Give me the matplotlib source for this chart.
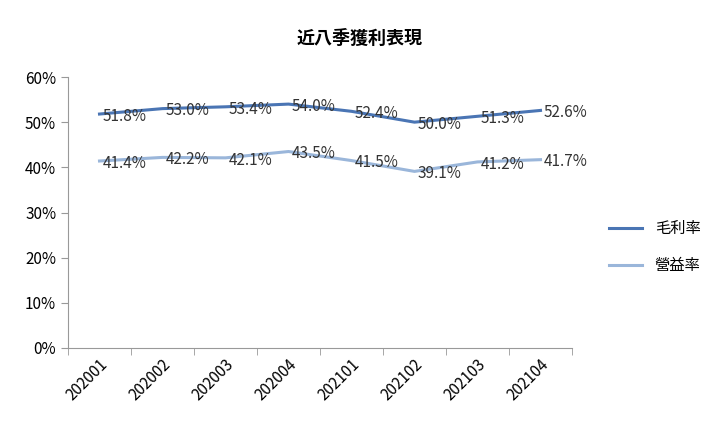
import matplotlib
matplotlib.use("Agg")
import matplotlib.pyplot as plt
from matplotlib import font_manager as fm

cjk = [f.name for f in fm.fontManager.ttflist if "CJK" in f.name]
pref = [n for n in ["Noto Sans CJK TC", "Noto Sans CJK SC", "Noto Sans CJK JP"] if n in cjk]
fams = (pref or cjk[:1]) + ["DejaVu Sans"]
plt.rcParams["font.family"] = fams

quarters = ["202001", "202002", "202003", "202004", "202101", "202102", "202103", "202104"]
gross_margin = [51.8, 53.0, 53.4, 54.0, 52.4, 50.0, 51.3, 52.6]
op_margin = [41.4, 42.2, 42.1, 43.5, 41.5, 39.1, 41.2, 41.7]
series_names = ["毛利率", "營益率"]
title = "近八季獲利表現"

fig = plt.figure(figsize=(7.2, 4.34), dpi=100)
ax = fig.add_axes([68/720, 1-348/434, (572-68)/720, (348-77)/434])
x = list(range(len(quarters)))
c1, c2 = "#4a75b4", "#9ab6da"
ax.plot(x, gross_margin, color=c1, lw=2.2, label=series_names[0])
ax.plot(x, op_margin, color=c2, lw=2.2, label=series_names[1])
for xi, v in zip(x, gross_margin):
    ax.text(xi + 0.05, v - 0.5, f"{v:.1f}%", fontsize=11, va="center", ha="left", color="#333333")
for xi, v in zip(x, op_margin):
    ax.text(xi + 0.05, v - 0.5, f"{v:.1f}%", fontsize=11, va="center", ha="left", color="#333333")
ax.set_xlim(-0.5, len(quarters) - 0.5)
ax.set_ylim(0, 60)
ax.set_yticks(range(0, 61, 10))
ax.set_yticklabels([f"{v}%" for v in range(0, 61, 10)], fontsize=11)
ax.set_xticks(x)
ax.set_xticklabels(quarters, rotation=45, ha="right", rotation_mode="anchor", fontsize=11)
ax.set_xticks([i - 0.5 for i in range(len(quarters) + 1)], minor=True)
ax.tick_params(axis="x", which="major", length=0, pad=6)
ax.tick_params(axis="x", which="minor", length=5, color="#999999")
ax.tick_params(axis="y", length=5, color="#999999")
for s in ["top", "right"]:
    ax.spines[s].set_visible(False)
for s in ["left", "bottom"]:
    ax.spines[s].set_color("#999999")
fig.text(0.5, 1-38/434, title, ha="center", va="center", fontsize=13, fontweight="bold")
fig.legend(loc="center left", bbox_to_anchor=(595/720, 1-247/434), frameon=False,
           fontsize=11, handlelength=2.2, labelspacing=1.3)
fig.savefig("out.png", dpi=100)
